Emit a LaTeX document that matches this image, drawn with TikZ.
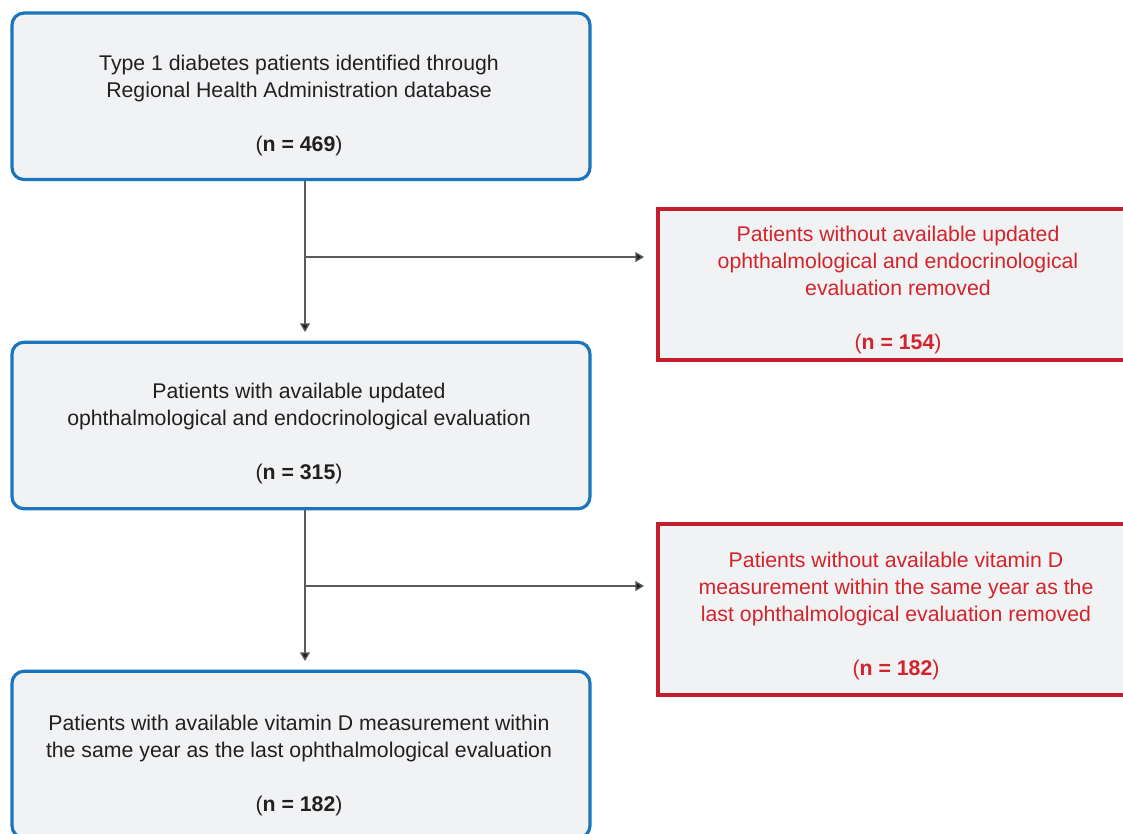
\documentclass[tikz,border=0pt]{standalone}
\usepackage{fontspec}
\setmainfont{Liberation Sans}
\usetikzlibrary{arrows.meta}
\definecolor{blueC}{HTML}{1B75BC}
\definecolor{redC}{HTML}{C41E2E}
\definecolor{redT}{HTML}{D3232B}
\definecolor{fillC}{HTML}{F1F2F4}
\definecolor{textC}{HTML}{231F20}
\definecolor{lineC}{HTML}{5A5A5C}
\tikzset{
  bluebox/.style={draw=blueC, line width=2.4pt, fill=fillC, rounded corners=9pt,
    minimum width=433.5pt, minimum height=124.9pt, inner sep=0pt},
  redbox/.style={draw=redC, line width=2.4pt, fill=fillC, sharp corners,
    minimum width=360pt, inner sep=0pt},
  lbl/.style={align=center, font=\fontsize{15.95pt}{20.25pt}\selectfont, text=textC, inner sep=0pt},
  rlbl/.style={lbl, text=redT},
  conn/.style={draw=lineC, line width=1pt},
  arr/.style={conn, -{Triangle[length=6.5pt,width=7.5pt,fill=textC]}}
}
\begin{document}
\begin{tikzpicture}[x=0.75pt,y=-0.75pt]
\useasboundingbox (0,0) rectangle (1123,834);
\clip (0,0) rectangle (1123,834);
% boxes
\node[bluebox] (box1) at (301,96.3) {};
\node[bluebox] (box2) at (301,425.5) {};
\node[bluebox] (box3) at (301,754.5) {};
\node[redbox, minimum height=113.25pt] (red1) at (898,284.5) {};
\node[redbox, minimum height=128.25pt] (red2) at (898,609.5) {};
% texts
\node[lbl] (t1) at (299,105) {Type 1 diabetes patients identified through\\Regional Health Administration database\\[20.25pt](\textbf{n = 469})};
\node[lbl] (t2) at (299,433) {Patients with available updated\\ophthalmological and endocrinological evaluation\\[20.25pt](\textbf{n = 315})};
\node[lbl] (t3) at (299,765) {Patients with available vitamin D measurement within\\the same year as the last ophthalmological evaluation\\[20.25pt](\textbf{n = 182})};
\node[rlbl] (t4) at (898,289.5) {Patients without available updated\\ophthalmological and endocrinological\\evaluation removed\\[20.25pt](\textbf{n = 154})};
\node[rlbl] (t5) at (896,615.5) {Patients without available vitamin D\\measurement within the same year as the\\last ophthalmological evaluation removed\\[20.25pt](\textbf{n = 182})};
% connectors
\coordinate (a1) at (305,332);
\coordinate (b1) at (305,257);
\coordinate (c1) at (644,257);
\coordinate (a2) at (305,661);
\coordinate (b2) at (305,586);
\coordinate (c2) at (644,586);
\draw[arr] (box1.south -| a1) -- (a1);
\draw[arr] (b1) -- (c1);
\draw[arr] (box2.south -| a2) -- (a2);
\draw[arr] (b2) -- (c2);
\end{tikzpicture}
\end{document}
